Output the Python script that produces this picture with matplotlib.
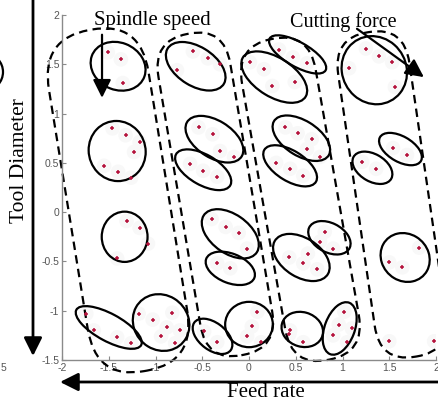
import matplotlib
matplotlib.use("Agg")
import matplotlib.pyplot as plt
from matplotlib.patches import Ellipse, FancyBboxPatch, FancyArrowPatch
from matplotlib.transforms import Affine2D
from matplotlib.ticker import FuncFormatter

plt.rcParams["axes.unicode_minus"] = False

# red "+" samples (feed rate, tool diameter)
point_x = [-1.51, -1.37, -1.35,
           -1.46, -1.32, -1.17, -1.23, -1.55, -1.40, -1.26,
           -1.31, -1.17, -1.08, -1.41,
           -1.74, -1.66, -1.41, -1.26,
           -1.18, -1.03, -0.82, -0.88, -0.74, -0.94, -0.79,
           -0.60, -0.44, -0.31, -0.77,
           -0.54, -0.39, -0.31, -0.16,
           -0.63, -0.49, -0.34,
           -0.40, -0.25, -0.11, -0.02,
           -0.34, -0.20,
           -0.48, -0.34,
           0.09, 0.03, -0.02, 0.13,
           0.32, 0.47, 0.62,
           0.01, 0.16, 0.25, 0.49,
           0.39, 0.52, 0.67, 0.62, 0.76,
           0.29, 0.44, 0.58,
           0.81, 0.76, 0.90,
           0.43, 0.63, 0.58, 0.73,
           0.44, 0.43, 0.58,
           1.02, 0.96, 1.10, 0.90, 1.05,
           1.25, 1.39, 1.53, 1.07, 1.56,
           1.21, 1.36,
           1.54, 1.69,
           1.82, 1.50, 1.64,
           1.50, 1.98]
point_y = [1.62, 1.55, 1.31,
           0.85, 0.78, 0.71, 0.61, 0.47, 0.41, 0.35,
           -0.09, -0.16, -0.32, -0.47,
           -1.03, -1.20, -1.27, -1.33,
           -1.03, -1.09, -1.02, -1.17, -1.20, -1.26, -1.33,
           1.63, 1.56, 1.50, 1.44,
           0.86, 0.79, 0.62, 0.56,
           0.49, 0.42, 0.36,
           -0.07, -0.15, -0.21, -0.37,
           -0.52, -0.57,
           -1.21, -1.32,
           -1.01, -1.16, -1.26, -1.32,
           1.65, 1.57, 1.51,
           1.52, 1.45, 1.28, 1.32,
           0.86, 0.80, 0.74, 0.64, 0.56,
           0.50, 0.44, 0.37,
           -0.20, -0.30, -0.37,
           -0.46, -0.42, -0.52, -0.58,
           -1.20, -1.24, -1.32,
           -1.01, -1.14, -1.18, -1.25, -1.32,
           1.66, 1.58, 1.52, 1.46, 1.27,
           0.51, 0.44,
           0.65, 0.58,
           -0.36, -0.51, -0.56,
           -1.31, -1.31]

# cluster ellipses: centre, width, height, angle
ell_x = [-1.40, -1.41, -1.33, -1.50, -0.94,
         -0.57, -0.37, -0.49, -0.20, -0.20, -0.39, 0.00,
         0.52, 0.27, 0.56, 0.44, 0.86, 0.56, 0.57, 0.97,
         1.34, 1.32, 1.62, 1.67]
ell_y = [1.48, 0.62, -0.25, -1.17, -1.12,
         1.48, 0.74, 0.43, -0.22, -0.57, -1.26, -1.14,
         1.60, 1.37, 0.75, 0.47, -0.26, -0.46, -1.19, -1.18,
         1.44, 0.45, 0.64, -0.46]
ell_w = [0.60, 0.62, 0.49, 0.78, 0.62,
         0.70, 0.68, 0.66, 0.68, 0.55, 0.48, 0.51,
         0.68, 0.78, 0.68, 0.64, 0.48, 0.66, 0.45, 0.56,
         0.72, 0.46, 0.50, 0.54]
ell_h = [0.48, 0.60, 0.51, 0.28, 0.56,
         0.40, 0.38, 0.31, 0.40, 0.30, 0.28, 0.46,
         0.25, 0.40, 0.36, 0.31, 0.30, 0.40, 0.35, 0.32,
         0.67, 0.28, 0.26, 0.48]
ell_ang = [-20, -45, 0, -27, -30,
           -30, -30, -28, -33, -20, -35, 0,
           -28, -30, -30, -30, -25, -30, -15, 68,
           -40, -28, -28, -30]

# dashed groups (one per spindle-speed column)
grp_x = [-1.40, -0.36, 0.55, 1.53]
grp_y = [0.12, 0.18, 0.13, 0.18]
grp_w = [1.08, 0.78, 0.80, 0.77]
grp_l = [3.51, 3.31, 3.31, 3.33]
grp_ang = [9.7, 10.1, 10.5, 8.7]

xticks = [-2, -1.5, -1, -0.5, 0, 0.5, 1, 1.5, 2]
yticks = [-1.5, -1, -0.5, 0, 0.5, 1, 1.5, 2]

W, H = 438, 405
fig = plt.figure(figsize=(W / 100, H / 100), dpi=100)
ax = fig.add_axes([62 / W, 45 / H, 374 / W, 345 / H])

ax.scatter(point_x, point_y, s=110, color="#f8f8f8", edgecolors="none", zorder=1)
ax.plot(point_x, point_y, "+", color="#b5123c", ms=3.5, mew=1.1, ls="none", zorder=4,
        clip_on=False)

for cx, cy, w, h, a in zip(ell_x, ell_y, ell_w, ell_h, ell_ang):
    ax.add_patch(Ellipse((cx, cy), w, h, angle=a, fill=False, ec="black", lw=1.6,
                         zorder=3, clip_on=False))

for cx, cy, w, l, a in zip(grp_x, grp_y, grp_w, grp_l, grp_ang):
    box = FancyBboxPatch((cx - w / 2, cy - l / 2), w, l,
                         boxstyle="round,pad=0,rounding_size=%.3f" % (w / 2 * 0.97),
                         fill=False, ec="black", lw=1.6, ls=(0, (3.8, 2.4)), zorder=2,
                         clip_on=False)
    box.set_transform(Affine2D().rotate_deg_around(cx, cy, a) + ax.transData)
    ax.add_patch(box)

ax.set_xlim(-2, 2)
ax.set_ylim(-1.5, 2)
ax.set_xticks(xticks)
ax.set_yticks(yticks)
fmt = FuncFormatter(lambda v, p: "%g" % v)
ax.xaxis.set_major_formatter(fmt)
ax.yaxis.set_major_formatter(fmt)
for s in ["top", "right"]:
    ax.spines[s].set_visible(False)
for s in ["left", "bottom"]:
    ax.spines[s].set_color("#8a8a8a")
    ax.spines[s].set_linewidth(1.0)
ax.tick_params(direction="in", length=3, width=0.8, color="#8a8a8a", labelcolor="#555555",
               labelsize=7.5, pad=2)
for lab in ax.get_xticklabels() + ax.get_yticklabels():
    lab.set_fontfamily("Liberation Sans")

arrow_kw = dict(arrowstyle="-|>,head_length=1.0,head_width=0.5", mutation_scale=11,
                color="black", lw=1.6, shrinkA=0, shrinkB=0)

# spindle speed / cutting force arrows inside the plot
ax.annotate("", xy=(-1.572, 1.16), xytext=(-1.572, 1.80),
            arrowprops=arrow_kw, annotation_clip=False)
ax.annotate("", xy=(1.87, 1.37), xytext=(1.155, 1.86),
            arrowprops=arrow_kw, annotation_clip=False)

serif = "Liberation Serif"
fig.text(152 / W, (H - 25) / H, "Spindle speed", family=serif, fontsize=15,
         ha="center", va="baseline")
fig.text(343 / W, (H - 27) / H, "Cutting force", family=serif, fontsize=14.5,
         ha="center", va="baseline")

# outer axis arrows
big_kw = dict(arrowstyle="-|>,head_length=1.0,head_width=0.5", mutation_scale=11,
              color="black", lw=2.0, shrinkA=0, shrinkB=0)
fig.add_artist(FancyArrowPatch((33, H + 2), (33, H - 356), transform=None, **big_kw))
fig.add_artist(FancyArrowPatch((W + 2, H - 382), (60, H - 382), transform=None, **big_kw))

fig.text(20 / W, (H - 161) / H, "Tool Diameter", family=serif, fontsize=15.5,
         rotation=90, ha="center", va="center")
fig.text(266 / W, (H - 397) / H, "Feed rate", family=serif, fontsize=15,
         ha="center", va="baseline")

# bits of the neighbouring panel seen at the left edge
fig.add_artist(Ellipse((-0.14, 3.33), 0.34, 0.36, fill=False, ec="black", lw=1.6,
                       transform=fig.dpi_scale_trans))
fig.text(0.5 / W, (H - 368) / H, "5", family="Liberation Sans", fontsize=7.5,
         color="#555555", ha="left", va="center")

fig.savefig("out.png", dpi=100)
